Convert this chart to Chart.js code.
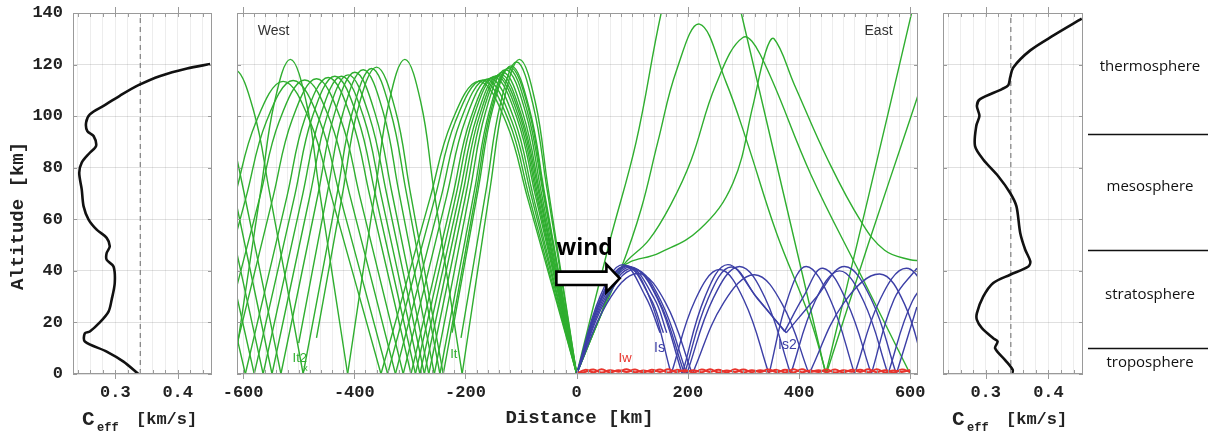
<!DOCTYPE html>
<html>
<head>
<meta charset="utf-8">
<title>Ray paths and effective sound speed</title>
<script src="https://cdn.jsdelivr.net/npm/chart.js@4.4.1/dist/chart.umd.min.js"></script>
<style>
  html, body { margin: 0; padding: 0; background: #fff; }
  #wrap { position: relative; width: 1208px; height: 436px; overflow: hidden; }
  #wrap canvas { position: absolute; left: 0; top: 0; }
</style>
</head>
<body>
<div id="wrap">
  <canvas id="mainChart" width="1208" height="436"></canvas>
  <canvas id="leftChart" width="1208" height="436"></canvas>
  <canvas id="rightChart" width="1208" height="436"></canvas>
</div>
<script>
// ---- tick labels ----
const altTicks = [0, 20, 40, 60, 80, 100, 120, 140];
const distTicks = [-600, -400, -200, 0, 200, 400, 600];
const speedTicks = [0.3, 0.4];
const groundSpeed = 0.34;

// ---- effective sound speed profiles [km/s] vs altitude [km] ----
const leftSpeed = [0.337,0.313,0.286,0.251,0.251,0.259,0.275,0.289,0.294,0.299,
                   0.297,0.286,0.286,0.291,0.286,0.270,0.257,0.249,0.246,0.242,
                   0.246,0.259,0.269,0.265,0.255,0.253,0.259,0.281,0.307,0.337,
                   0.372,0.415,0.452];
const leftAlt   = [0,4.8,8.7,12.6,15.8,16.5,20,24.2,28.8,35.3,
                   41.7,44.3,46.9,49.5,52.8,56,59.9,65,71.6,78,
                   82,85.8,88.4,92.3,94.2,97.5,100.7,104,107.9,112,
                   115.6,118.5,120.2];
const rightSpeed = [0.342,0.343,0.331,0.315,0.319,0.312,0.294,0.286,0.286,0.296,
                    0.312,0.339,0.368,0.371,0.363,0.355,0.349,0.339,0.320,0.296,
                    0.283,0.285,0.290,0.286,0.291,0.326,0.336,0.339,0.344,0.371,
                    0.408,0.453];
const rightAlt   = [0,1.6,5.4,10,12.6,13.9,17.8,21,23.6,30,
                    35.3,38.5,41.7,43.7,48.2,54.7,65,70.2,76.7,83.2,
                    88.4,96.2,100.1,104,106.6,110.5,112,115,118.9,125.5,
                    131.3,137.8];

// ---- atmosphere layers ----
const layerNames = ['thermosphere', 'mesosphere', 'stratosphere', 'troposphere'];
const layerLabelAlt = [119, 72.5, 30.6, 4.3];
const layerBounds = [93, 48, 10];

// ---- ray paths [distance km, altitude km] ----
// thermospheric rays going west
const westRays = [
  [[0,0],[-52,73],[-74,105],[-103,122],[-132,105],[-155,73],[-206,0],[-258,73],[-280,105],[-309,122],[-338,105],[-361,73],[-412,0],[-464,73],[-486,105],[-515,122],[-544,105],[-567,73],[-618,0]],
  [[0,0],[-61,71],[-89,102],[-123,118.5],[-157,102],[-184,71],[-246,0],[-307,71],[-335,102],[-369,118.5],[-403,102],[-430,71],[-492,0],[-553,71],[-581,102],[-615,118],[-649,102]],
  [[0,0],[-66,70],[-96,100.6],[-133,117],[-170,100.6],[-199,70],[-266,0],[-332,70],[-362,100.6],[-399,117],[-436,100.6],[-465,70],[-532,0],[-598,70],[-628,100.6]],
  [[0,0],[-68,70],[-99,100],[-137,116.3],[-175,100],[-205,70],[-274,0],[-342,70],[-373,100],[-411,116],[-449,100],[-479,70],[-548,0],[-616,70]],
  [[0,0],[-70,69.5],[-101,99.6],[-141,115.8],[-180,99.6],[-211,69.5],[-282,0],[-352,69.5],[-383,99.5],[-423,115.5],[-462,99.5],[-493,69.5],[-564,0],[-634,69.5]],
  [[0,0],[-72,69.4],[-104,99.4],[-145,115.6],[-186,99.4],[-217,69.4],[-290,0],[-362,69.4],[-394,99.4],[-435,115.5],[-476,99.4],[-507,69.4],[-580,0],[-652,69.4]],
  [[0,0],[-74,69],[-107,99],[-149,115.2],[-191,99],[-223,69],[-298,0],[-372,69],[-405,99],[-447,115],[-489,99],[-521,69],[-596,0],[-670,69]],
  [[0,0],[-78,68.8],[-112,98.6],[-156,114.6],[-200,98.6],[-234,68.8],[-312,0],[-390,68.8],[-424,98.5],[-468,114.5],[-512,98.5],[-546,68.8],[-624,0]],
  [[0,0],[-81,68.5],[-117,98.2],[-163,114.2],[-209,98.2],[-244,68.5],[-326,0],[-407,68.5],[-443,98],[-489,114],[-535,98],[-570,68.5],[-652,0]],
  [[0,0],[-85,68.3],[-122,98],[-170,113.9],[-218,98],[-255,68.3],[-340,0],[-425,68.3],[-462,98],[-510,113.8],[-558,98],[-595,68.3],[-680,0]],
  [[0,0],[-88,68],[-127,97.6],[-176,113.5],[-225,97.6],[-264,68],[-352,0],[-440,68],[-479,97.6],[-528,113.5],[-577,97.6],[-616,68]],
  [[0,0],[-54,72.6],[-78,104],[-108,121],[-138,104],[-162,72.6],[-208,14]],
  [[0,0],[-59,71.7],[-85,102.8],[-118,119.5],[-151,102.8],[-177,71.7],[-224,16]],
  [[0,0],[-60,71.4],[-86,102.3],[-120,119],[-154,102.3],[-180,71.4],[-240,0],[-300,71.4],[-326,102.3],[-360,119],[-394,102.3],[-420,71.4],[-468,14]],
  [[0,0],[-64,70.8],[-92,101.5],[-128,118],[-164,101.5],[-192,70.8],[-256,0],[-320,70.8],[-348,101.5],[-384,118],[-420,101.5],[-448,70.8],[-500,12]]
];
// thermospheric rays going east
const eastRays = [
  [[0,0],[59,51],[107,90],[152,140],[190,172],[225,182],[260,172],[296,140],[372,70],[448,0],[524,68],[600,137.7],[620,156]],
  [[0,0],[40,21],[80,41],[116,64],[146,90],[180,118],[221,135.7],[269,113],[305,91],[359,55],[419,22],[449,0],[524,50],[600,99],[620,112]],
  [[0,0],[40,21],[80,41],[130,52],[170,66],[206,83],[250,112],[299,130.5],[330,124],[422,77],[512,38],[600,0]],
  [[0,0],[40,21],[80,41],[149,47],[221,56],[281,74],[317,104],[340,125],[355,130],[392,112],[452,83],[512,59],[554,48],[600,44.3],[620,44]]
];
// stratospheric rays
const stratoRays = [
  [[0,0],[42,30],[83,42.4],[124,30],[150,16]],
  [[0,0],[44,29.7],[88,42],[132,29.7],[156,16]],
  [[0,0],[46,29.5],[93,41.7],[139,29.5],[162,16]],
  [[0,0],[48,29.3],[97,41.5],[145,29.3],[190,0],[231,30],[272,42.4],[323,30],[374,16.5],[408,30],[443,41],[486,28],[530,0],[571,29],[612,41]],
  [[0,0],[52,28.6],[104,40.5],[151,28.6],[198,0],[246,29.5],[293,41.7],[339,29.5],[385,0],[429,28.3],[473,40],[516,28.3],[560,0],[604,28.3],[648,40]],
  [[0,0],[55,27.6],[110,39],[160,27.6],[208,0],[264,27.5],[320,38.5],[370,27],[418,0],[480,27.4],[545,38.8],[590,27],[628,0]],
  [[0,0],[45,29.7],[90,42],[131,29.7],[170,0],[213,28.6],[257,40.5],[301,28.6],[346,0],[380,29.5],[413,41.7],[456,29],[500,0],[546,29],[593,41],[640,29]],
  [[0,0],[50,29],[100,41],[147,29],[194,0],[236,29],[278,41.5],[326,29],[377,16],[430,29.5],[482,41.7],[530,29],[575,0],[612,26]]
];
// near-ground (Iw) rays
const groundX = [0,15,30,45,60,75,90,105,120,135,150,165,180,195,210,225,240,255,270,285,
                 300,315,330,345,360,375,390,405,420,435,450,465,480,495,510,525,540,555,570,585,600];
const groundAltA = [0,1.6,0.7,1.8,0.6,1.5,0.8,1.7,0.6,1.6,0.8,1.8,0.7,1.5,0.6,1.7,0.8,1.6,0.7,1.8,
                    0.6,1.5,0.8,1.7,0.7,1.6,0.6,1.8,0.8,1.5,0.7,1.7,0.6,1.6,0.8,1.8,0.7,1.5,0.6,1.7,0.8];
const groundAltB = [0,0.8,1.7,0.6,1.5,0.9,1.8,0.7,1.4,0.8,1.7,0.6,1.6,0.9,1.5,0.7,1.8,0.6,1.4,0.8,
                    1.7,0.7,1.5,0.9,1.6,0.6,1.8,0.7,1.4,0.8,1.7,0.6,1.5,0.9,1.6,0.7,1.8,0.6,1.4,0.8,1.6];

const green = '#2fae2f';
const blue = '#3c3fa6';
const red = '#e8342c';
const ink = '#222';
const monoBold = (size) => ({ family: '"Liberation Mono", "DejaVu Sans Mono", monospace', size: size, weight: 'bold' });

// split a ray at each turning point near the ground so the bounce stays sharp
function splitHops(ray) {
  const hops = [];
  let cur = [ray[0]];
  for (let i = 1; i < ray.length; i++) {
    cur.push(ray[i]);
    const last = i === ray.length - 1;
    const low = !last && (ray[i][1] === 0 || (ray[i][1] < ray[i - 1][1] && ray[i][1] < ray[i + 1][1]));
    if (low) { hops.push(cur); cur = [ray[i]]; }
  }
  hops.push(cur);
  return hops;
}
function lineSet(points, color, width, tension) {
  return {
    data: points.map(p => ({ x: p[0], y: p[1] })),
    borderColor: color, borderWidth: width, showLine: true,
    pointRadius: 0, tension: tension, fill: false
  };
}
// keep the plot areas exactly where the layout padding puts them
function noScalePad(s) { s.paddingTop = 0; s.paddingBottom = 0; s.paddingLeft = 0; s.paddingRight = 0; }

// frame with small inner ticks
const framePlugin = {
  id: 'frame',
  afterDatasetsDraw(chart, args, opts) {
    const { ctx, chartArea: a, scales } = chart;
    ctx.save();
    ctx.strokeStyle = '#9a9a9a';
    ctx.lineWidth = 1;
    ctx.strokeRect(a.left + 0.5, a.top + 0.5, a.right - a.left - 1, a.bottom - a.top - 1);
    ctx.beginPath();
    scales.x.ticks.forEach(t => {
      const px = Math.round(scales.x.getPixelForValue(t.value)) + 0.5;
      ctx.moveTo(px, a.top); ctx.lineTo(px, a.top + 4);
      ctx.moveTo(px, a.bottom); ctx.lineTo(px, a.bottom - 4);
      if (t.label !== '') {
        ctx.moveTo(px, a.top); ctx.lineTo(px, a.top - 6);
        ctx.moveTo(px, a.bottom); ctx.lineTo(px, a.bottom + 5);
      }
    });
    scales.y.ticks.forEach(t => {
      const py = Math.round(scales.y.getPixelForValue(t.value)) + 0.5;
      ctx.moveTo(a.left, py); ctx.lineTo(a.left + 4, py);
      ctx.moveTo(a.right, py); ctx.lineTo(a.right - 4, py);
    });
    ctx.stroke();
    ctx.restore();
  }
};

// ---------------- main panel ----------------
const mainSets = [];
mainSets.push(lineSet(groundX.map((x, i) => [x, groundAltA[i]]), red, 2, 0.4));
mainSets.push(lineSet(groundX.map((x, i) => [x, groundAltB[i]]), red, 2, 0.4));
stratoRays.forEach(r => splitHops(r).forEach(h => mainSets.push(lineSet(h, blue, 1.4, 0.4))));
eastRays.forEach(r => splitHops(r).forEach(h => mainSets.push(lineSet(h, green, 1.4, 0.4))));
westRays.forEach(r => splitHops(r).forEach(h => mainSets.push(lineSet(h, green, 1.4, 0.4))));

const mainNotes = {
  id: 'mainNotes',
  afterDraw(chart, args, opts) {
    const { ctx, chartArea: a, scales: { x, y } } = chart;
    ctx.save();
    ctx.textAlign = 'center';
    ctx.textBaseline = 'middle';
    opts.labels.forEach(l => {
      ctx.font = l.font;
      ctx.fillStyle = l.color;
      ctx.fillText(l.text, x.getPixelForValue(l.x), y.getPixelForValue(l.y));
    });
    // wind arrow
    const w = opts.arrow;
    const X = v => x.getPixelForValue(v), Y = v => y.getPixelForValue(v);
    ctx.beginPath();
    ctx.moveTo(X(w.tail), Y(w.alt + w.shaft));
    ctx.lineTo(X(w.neck), Y(w.alt + w.shaft));
    ctx.lineTo(X(w.neck), Y(w.alt + w.head));
    ctx.lineTo(X(w.tip), Y(w.alt));
    ctx.lineTo(X(w.neck), Y(w.alt - w.head));
    ctx.lineTo(X(w.neck), Y(w.alt - w.shaft));
    ctx.lineTo(X(w.tail), Y(w.alt - w.shaft));
    ctx.closePath();
    ctx.fillStyle = '#fff';
    ctx.fill();
    ctx.strokeStyle = '#000';
    ctx.lineWidth = 2.6;
    ctx.lineJoin = 'miter';
    ctx.stroke();
    ctx.font = '700 23px "Open Sans"';
    ctx.fillStyle = '#000';
    ctx.fillText('wind', X(w.textX), Y(w.textY));
    // axis title
    ctx.font = 'bold 19px "Liberation Mono"';
    ctx.fillStyle = ink;
    ctx.fillText('Distance [km]', (a.left + a.right) / 2 + 2, 418);
    ctx.restore();
  }
};

new Chart(document.getElementById('mainChart'), {
  type: 'scatter',
  data: { datasets: mainSets },
  options: {
    responsive: false, animation: false, events: [],
    layout: { padding: { left: 237, right: 290, top: 13, bottom: 0 } },
    elements: { line: { capBezierPoints: false } },
    plugins: {
      legend: { display: false }, tooltip: { enabled: false },
      mainNotes: {
        labels: [
          { text: 'West', x: -545, y: 133, color: '#333', font: '14px "Liberation Sans"' },
          { text: 'East', x: 543, y: 133, color: '#333', font: '14px "Liberation Sans"' },
          { text: 'It2', x: -498, y: 6.2, color: green, font: '13px "Liberation Sans"' },
          { text: 'x', x: -488, y: 2.0, color: green, font: '9px "Liberation Sans"' },
          { text: 'It', x: -221, y: 7.4, color: green, font: '13px "Liberation Sans"' },
          { text: 'Iw', x: 87, y: 6.2, color: red, font: '13px "Liberation Sans"' },
          { text: 'Is', x: 149, y: 10, color: blue, font: '14px "Liberation Sans"' },
          { text: 'Is2', x: 379, y: 11.2, color: blue, font: '14px "Liberation Sans"' }
        ],
        arrow: { tail: -36.5, neck: 53.5, tip: 77.4, alt: 37.1, shaft: 2.6, head: 5.4, textX: 14.4, textY: 48.5 }
      }
    },
    scales: {
      x: {
        type: 'linear', min: -611, max: 614,
        ticks: {
          stepSize: 20, includeBounds: false, autoSkip: false, maxRotation: 0, padding: 9,
          font: monoBold(17), color: ink,
          callback: v => (distTicks.includes(Math.round(v)) ? String(Math.round(v)) : '')
        },
        grid: { color: 'rgba(0,0,0,0.07)', drawTicks: false },
        border: { display: false },
        afterFit: s => { s.height = 62; noScalePad(s); }
      },
      y: {
        min: 0, max: 140,
        ticks: { stepSize: 20, includeBounds: false, display: false },
        grid: { color: 'rgba(0,0,0,0.12)', drawTicks: false },
        border: { display: false },
        afterFit: s => { s.width = 0; noScalePad(s); }
      }
    }
  },
  plugins: [framePlugin, mainNotes]
});

// ---------------- side panels ----------------
function ceffTitle(ctx, left) {
  ctx.fillStyle = ink;
  ctx.textAlign = 'left';
  ctx.textBaseline = 'alphabetic';
  ctx.font = 'bold 21px "Liberation Mono"';
  ctx.fillText('C', left + 9, 425);
  ctx.font = 'bold 12px "Liberation Mono"';
  ctx.fillText('eff', left + 24, 431);
  ctx.font = 'bold 17px "Liberation Mono"';
  ctx.fillText('[km/s]', left + 63, 424);
}

const sideNotes = {
  id: 'sideNotes',
  afterDraw(chart, args, opts) {
    const { ctx, chartArea: a, scales: { y } } = chart;
    ctx.save();
    ceffTitle(ctx, a.left);
    if (opts.altitudeTitle) {
      ctx.translate(18, 216);
      ctx.rotate(-Math.PI / 2);
      ctx.font = 'bold 19px "Liberation Mono"';
      ctx.textAlign = 'center';
      ctx.textBaseline = 'middle';
      ctx.fillText('Altitude [km]', 0, 0);
      ctx.setTransform(1, 0, 0, 1, 0, 0);
    }
    if (opts.layers) {
      const x0 = a.right + 5, x1 = chart.width;
      ctx.strokeStyle = '#111';
      ctx.lineWidth = 1.3;
      ctx.beginPath();
      layerBounds.forEach(b => {
        const py = Math.round(y.getPixelForValue(b)) + 0.5;
        ctx.moveTo(x0, py); ctx.lineTo(x1, py);
      });
      ctx.stroke();
      ctx.font = '15px "Open Sans"';
      ctx.fillStyle = '#111';
      ctx.textAlign = 'center';
      ctx.textBaseline = 'middle';
      layerNames.forEach((n, i) => ctx.fillText(n, (x0 + x1) / 2 + 2, y.getPixelForValue(layerLabelAlt[i])));
    }
    ctx.restore();
  }
};

function sidePanel(canvasId, speed, alt, padLeft, padRight, yLabels) {
  const profile = lineSet(speed.map((c, i) => [c, alt[i]]), '#111', 2.6, 0.3);
  const dashed = lineSet([[groundSpeed, 0], [groundSpeed, 140]], '#888', 1.3, 0);
  dashed.borderDash = [5, 4];
  return new Chart(document.getElementById(canvasId), {
    type: 'scatter',
    data: { datasets: [profile, dashed] },
    options: {
      responsive: false, animation: false, events: [],
      layout: { padding: { left: padLeft, right: padRight, top: 13, bottom: 0 } },
      plugins: {
        legend: { display: false }, tooltip: { enabled: false },
        sideNotes: { altitudeTitle: yLabels, layers: !yLabels }
      },
      scales: {
        x: {
          type: 'linear', min: 0.232, max: 0.455,
          ticks: {
            stepSize: 0.02, includeBounds: false, autoSkip: false, maxRotation: 0, padding: 9,
            font: monoBold(17), color: ink,
            callback: v => { const t = speedTicks.find(s => Math.abs(s - v) < 1e-6); return t === undefined ? '' : t.toFixed(1); }
          },
          grid: { color: 'rgba(0,0,0,0.07)', drawTicks: false },
          border: { display: false },
          afterFit: s => { s.height = 62; noScalePad(s); }
        },
        y: {
          min: 0, max: 140,
          ticks: {
            stepSize: 20, includeBounds: false, display: yLabels, padding: 10,
            font: monoBold(17), color: ink,
            callback: v => (altTicks.includes(Math.round(v)) ? String(Math.round(v)) : '')
          },
          grid: { color: 'rgba(0,0,0,0.12)', drawTicks: false },
          border: { display: false },
          afterFit: s => { s.width = yLabels ? 73 : 0; noScalePad(s); }
        }
      }
    },
    plugins: [framePlugin, sideNotes]
  });
}

sidePanel('leftChart', leftSpeed, leftAlt, 0, 996, true);
sidePanel('rightChart', rightSpeed, rightAlt, 943, 125, false);
</script>
</body>
</html>
